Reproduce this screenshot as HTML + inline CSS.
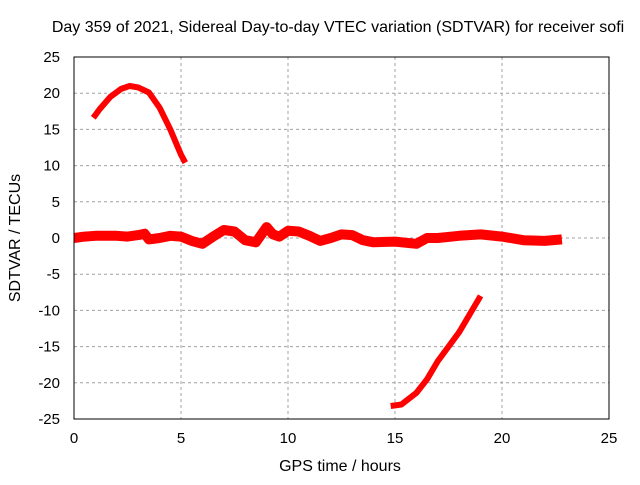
<!DOCTYPE html>
<html><head><meta charset="utf-8"><style>
body{margin:0;background:#fff;}
svg text{font-family:"Liberation Sans",sans-serif;font-size:15px;fill:#000;}
</style></head><body>
<svg width="640" height="480" xmlns="http://www.w3.org/2000/svg">
<rect width="640" height="480" fill="#fff"/>
<g id="grid"></g>
<g id="series"></g>
<rect x="74" y="57" width="535" height="362" fill="none" stroke="#000" stroke-width="1"/>
<g id="ticks"></g>
<text x="338" y="32" text-anchor="middle" style="font-size:16px">Day 359 of 2021, Sidereal Day-to-day VTEC variation (SDTVAR) for receiver sofi</text>
<text x="340" y="471" text-anchor="middle" style="font-size:16px">GPS time / hours</text>
<text x="20" y="238" text-anchor="middle" style="font-size:16px" transform="rotate(-90 20 238)">SDTVAR / TECUs</text>
</svg>
<script>
const xTicks=[0,5,10,15,20,25];
const yTicks=[25,20,15,10,5,0,-5,-10,-15,-20,-25];
const seg1X=[0.9,1.2,1.7,2.2,2.6,3.0,3.5,4.0,4.5,5.0,5.2];
const seg1Y=[16.6,17.8,19.5,20.6,21.0,20.8,20.1,18.0,15.0,11.5,10.4];
const bandX=[0,0.5,1,1.5,2,2.5,3,3.3,3.5,4,4.5,5,5.5,6,6.5,7,7.5,8,8.5,9,9.3,9.6,10,10.5,11,11.5,12,12.5,13,13.5,14,15,16,16.5,17,18,19,20,21,22,22.8];
const bandY=[0,0.2,0.3,0.3,0.3,0.2,0.4,0.6,-0.2,0,0.3,0.2,-0.4,-0.8,0.2,1.1,0.9,-0.3,-0.6,1.5,0.5,0.2,1.0,0.9,0.3,-0.4,0,0.5,0.4,-0.3,-0.6,-0.5,-0.8,0,0,0.3,0.5,0.2,-0.3,-0.4,-0.2];
const seg3X=[14.8,15.3,16.0,16.5,17.0,18.0,19.0];
const seg3Y=[-23.2,-23.0,-21.4,-19.5,-17.0,-13.0,-8.0];
const NS="http://www.w3.org/2000/svg";
const X0=74,X1=609,Y0=57,Y1=419;
const sx=v=>X0+(v-0)/25*(X1-X0);
const sy=v=>Y0+(25-v)/50*(Y1-Y0);
const grid=document.getElementById('grid'),ticks=document.getElementById('ticks'),ser=document.getElementById('series');
function mk(t,a,p){const e=document.createElementNS(NS,t);for(const k in a)e.setAttribute(k,a[k]);p.appendChild(e);return e;}
xTicks.forEach(v=>{
 const x=sx(v);
 if(v>0&&v<25){const g=mk('line',{x1:x,x2:x,y1:Y0,y2:Y1,stroke:'#a0a0a0','stroke-dasharray':'3,3'},grid);
 
 }
 const t=mk('text',{x:x,y:443,'text-anchor':'middle'},ticks);t.textContent=v;
 
 
});
yTicks.forEach(v=>{
 const y=sy(v);
 if(v>-25&&v<25){const g=mk('line',{x1:X0,x2:X1,y1:y,y2:y,stroke:'#a0a0a0','stroke-dasharray':'3,3'},grid);
 
 }
 const t=mk('text',{x:60,y:y+5,'text-anchor':'end'},ticks);t.textContent=v;
 
 
});
function line(xs,ys,w,name){
 const d=xs.map((x,i)=>(i?'L':'M')+sx(x).toFixed(1)+','+sy(ys[i]).toFixed(1)).join('');
 const p=mk('path',{d:d,fill:'none',stroke:'#ff0000','stroke-width':w,'stroke-linejoin':'round','stroke-linecap':'butt'},ser);
 
 
}
line(seg1X,seg1Y,6,'series-early-arc');
line(bandX,bandY,10,'series-main-band');
line(seg3X,seg3Y,6,'series-late-arc');
</script>
</body></html>
